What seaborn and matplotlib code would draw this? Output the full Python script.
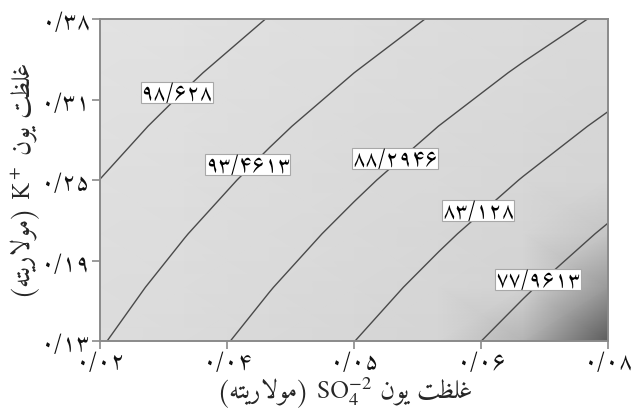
import numpy as np
import matplotlib
matplotlib.use("Agg")
import matplotlib.pyplot as plt
import seaborn as sns
from matplotlib.colors import LinearSegmentedColormap, Normalize

# grid of SO4 (x) and K (y) concentrations
so4 = [0.02, 0.03, 0.04, 0.05, 0.06, 0.07, 0.08]
k_ion = [0.13, 0.1717, 0.2133, 0.255, 0.2967, 0.3383, 0.38]
# rows = k_ion (bottom -> top), cols = so4 (left -> right)
response = [
    [93.76, 90.20, 86.67, 83.17, 79.70, 76.25, 72.84],
    [95.30, 91.87, 88.46, 85.08, 81.73, 78.42, 75.13],
    [96.91, 93.60, 90.32, 87.07, 83.84, 80.65, 77.48],
    [98.60, 95.41, 92.26, 89.13, 86.03, 82.96, 79.92],
    [100.36, 97.30, 94.26, 91.26, 88.28, 85.34, 82.42],
    [102.19, 99.26, 96.35, 93.47, 90.61, 87.79, 85.00],
    [104.10, 101.29, 98.50, 95.75, 93.02, 90.32, 87.65],
]
levels = [77.9613, 83.128, 88.2946, 93.4613, 98.628]

x_ticks = [0.02, 0.035, 0.05, 0.065, 0.08]
x_ticklabels = ["۰/۰۲", "۰/۰۴", "۰/۰۵", "۰/۰۶", "۰/۰۸"]
y_ticks = [0.13, 0.1925, 0.255, 0.3175, 0.38]
y_ticklabels = ["۰/۱۳", "۰/۱۹", "۰/۲۵", "۰/۳۱", "۰/۳۸"]

# persian words, written in visual order with presentation forms (no shaping in mpl)
ghalzat = "\uFE96\uFEC8\uFEE0\uFECF"
yoon = "\uFEE5\uFEEE\uFEF3"
molar = "(\uFEEA\uFE98\uFEF3\uFEAD\uFEFB\uFEEE\uFEE3)"
xlabel = molar + " SO$_4^{-2}$ " + yoon + " " + ghalzat
ylabel = molar + " K$^+$ " + yoon + " " + ghalzat

fa_digits = str.maketrans("0123456789.", "۰۱۲۳۴۵۶۷۸۹/")

sns.set_theme(style="white")
plt.rcParams["font.family"] = ["Amiri", "DejaVu Sans"]
plt.rcParams["mathtext.fontset"] = "stix"

fig = plt.figure(figsize=(6.32, 4.10), dpi=100)
ax = fig.add_axes([100 / 632, 68 / 410, 508 / 632, 322 / 410])

X, Y = np.meshgrid(so4, k_ion)
Z = np.array(response)

cmap = LinearSegmentedColormap.from_list(
    "gray_corner",
    [(0.0, "#5c5c5c"), (0.10, "#b2b2b2"), (0.18, "#d4d4d4"),
     (0.5, "#dadada"), (1.0, "#e2e2e2")],
)
ax.pcolormesh(X, Y, Z, shading="gouraud", cmap=cmap,
              norm=Normalize(vmin=72.84, vmax=104.1))

cs = ax.contour(X, Y, Z, levels=levels, colors="#4a4a4a", linewidths=1.0)
spots = [(0.0377, 0.2613), (0.0556, 0.2613), (0.0653, 0.2225),
         (0.0716, 0.175), (0.0291, 0.3188)]
labels = ax.clabel(cs, levels, inline=False, fontsize=16, colors="black",
                   fmt={l: str(l).translate(fa_digits) for l in levels},
                   manual=spots)
for t in labels:
    t.set_rotation(0)
    t.set_verticalalignment("baseline")
    t.set_bbox(dict(boxstyle="square,pad=0.0", fc="white", ec="#a8a8a8", lw=0.8))

ax.set_xlim(0.02, 0.08)
ax.set_ylim(0.13, 0.38)
ax.set_xticks(x_ticks)
ax.set_xticklabels(x_ticklabels, fontsize=17)
ax.set_yticks(y_ticks)
ax.set_yticklabels(y_ticklabels, fontsize=17)
ax.tick_params(direction="out", length=6, width=1.2, color="#8a8a8a",
               labelcolor="#111111", pad=1, bottom=True, left=True)
for s in ax.spines.values():
    s.set_color("#8a8a8a")
    s.set_linewidth(1.4)

ax.set_xlabel(xlabel, fontsize=19, va="center")
ax.xaxis.set_label_coords(0.48, -0.158)
ax.set_ylabel(ylabel, fontsize=19, va="center")
ax.yaxis.set_label_coords(-0.148, 0.5)

fig.savefig("out.png", dpi=100)
